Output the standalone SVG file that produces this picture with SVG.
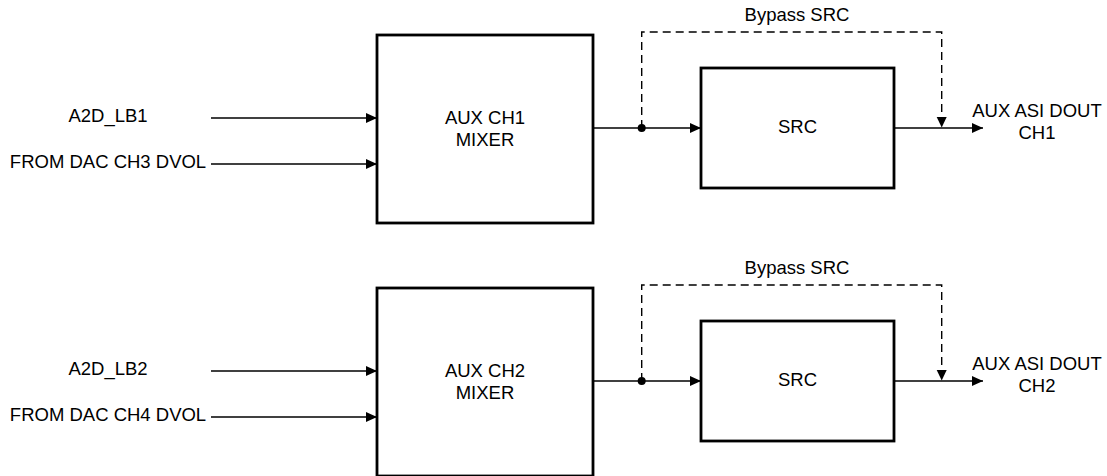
<svg xmlns="http://www.w3.org/2000/svg" width="1107" height="476" viewBox="0 0 1107 476">
  <style>
    text { font-family: "Liberation Sans", Arial, sans-serif; font-size: 18.5px; fill: #000; }
    .box { fill: #fff; stroke: #000; stroke-width: 2.8; }
    .wire { fill: none; stroke: #000; stroke-width: 1.4; }
    .dash { fill: none; stroke: #000; stroke-width: 1.4; stroke-dasharray: 8 5; }
  </style>
  <defs>
    <marker id="arr" markerUnits="userSpaceOnUse" markerWidth="11" markerHeight="10" refX="11" refY="5" orient="auto">
      <path d="M0,0 L11,5 L0,10 z" fill="#000"/>
    </marker>
  </defs>
  <rect width="1107" height="476" fill="#fff"/>

  <!-- Channel 1 -->
  <g id="in-a2d-lb1"><text x="108" y="122" text-anchor="middle">A2D_LB1</text></g>
  <g id="in-dac-ch3"><text x="108" y="168" text-anchor="middle">FROM DAC CH3 DVOL</text></g>
  <g id="mixer1">
    <rect class="box" x="377" y="35" width="216" height="188"/>
    <text x="485" y="124" text-anchor="middle">AUX CH1</text>
    <text x="485" y="146" text-anchor="middle">MIXER</text>
  </g>
  <g id="src1">
    <rect class="box" x="701" y="68" width="193" height="120"/>
    <text x="797.5" y="133" text-anchor="middle">SRC</text>
  </g>
  <g id="bypass1-label"><text x="797" y="21" text-anchor="middle">Bypass SRC</text></g>
  <g id="out1">
    <text x="1037" y="117" text-anchor="middle">AUX ASI DOUT</text>
    <text x="1037" y="139" text-anchor="middle">CH1</text>
  </g>

  <!-- Channel 2 -->
  <g id="in-a2d-lb2"><text x="108" y="375" text-anchor="middle">A2D_LB2</text></g>
  <g id="in-dac-ch4"><text x="108" y="421" text-anchor="middle">FROM DAC CH4 DVOL</text></g>
  <g id="mixer2">
    <rect class="box" x="377" y="288" width="216" height="188"/>
    <text x="485" y="377" text-anchor="middle">AUX CH2</text>
    <text x="485" y="399" text-anchor="middle">MIXER</text>
  </g>
  <g id="src2">
    <rect class="box" x="701" y="321" width="193" height="120"/>
    <text x="797.5" y="386" text-anchor="middle">SRC</text>
  </g>
  <g id="bypass2-label"><text x="797" y="274" text-anchor="middle">Bypass SRC</text></g>
  <g id="out2">
    <text x="1037" y="370" text-anchor="middle">AUX ASI DOUT</text>
    <text x="1037" y="392" text-anchor="middle">CH2</text>
  </g>

  <g id="connectors">
    <!-- channel 1 -->
    <line class="wire" x1="211" y1="118" x2="377" y2="118" marker-end="url(#arr)"/>
    <line class="wire" x1="211" y1="164" x2="377" y2="164" marker-end="url(#arr)"/>
    <line class="wire" x1="593" y1="128" x2="701" y2="128" marker-end="url(#arr)"/>
    <circle cx="641.7" cy="128" r="4" fill="#000"/>
    <path class="dash" d="M641.7,128 V32 H941.7 V118"/>
    <path d="M936.7,117 L946.7,117 L941.7,127.5 z" fill="#000"/>
    <line class="wire" x1="894" y1="128" x2="983" y2="128" marker-end="url(#arr)"/>
    <!-- channel 2 -->
    <line class="wire" x1="211" y1="371" x2="377" y2="371" marker-end="url(#arr)"/>
    <line class="wire" x1="211" y1="417" x2="377" y2="417" marker-end="url(#arr)"/>
    <line class="wire" x1="593" y1="381" x2="701" y2="381" marker-end="url(#arr)"/>
    <circle cx="641.7" cy="381" r="4" fill="#000"/>
    <path class="dash" d="M641.7,381 V285 H941.7 V371"/>
    <path d="M936.7,370 L946.7,370 L941.7,380.5 z" fill="#000"/>
    <line class="wire" x1="894" y1="381" x2="983" y2="381" marker-end="url(#arr)"/>
  </g>
</svg>
